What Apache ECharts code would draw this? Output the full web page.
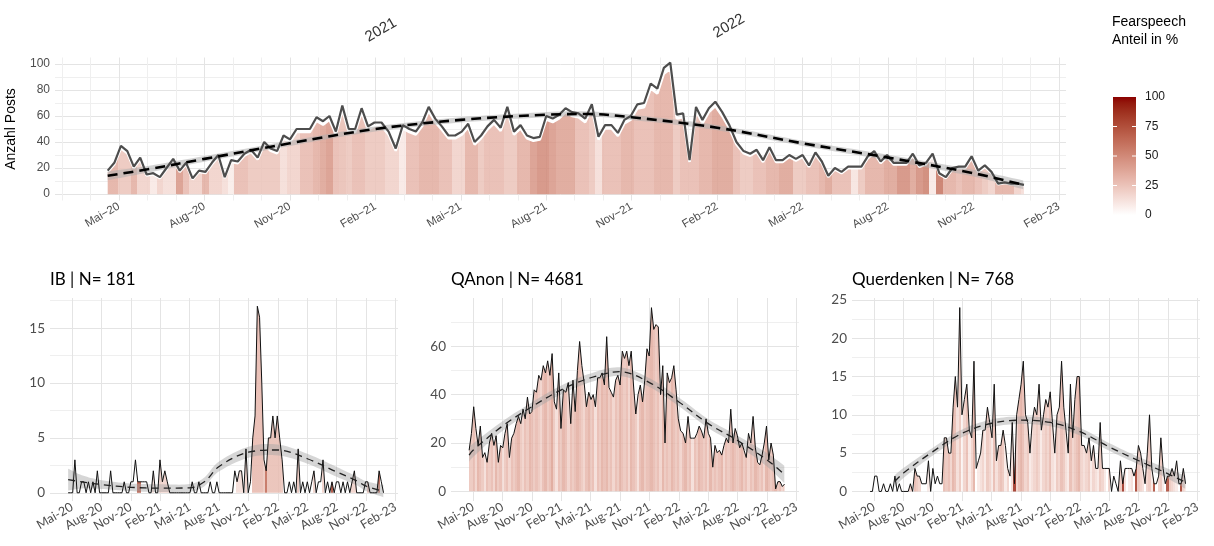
<!DOCTYPE html>
<html><head><meta charset="utf-8">
<script src="https://cdn.jsdelivr.net/npm/echarts@6/dist/echarts.min.js"></script>
<style>html,body{margin:0;padding:0;background:#fff}#c{width:1214px;height:546px}</style>
</head><body><div id="c"></div>
<script>
// ---------- data ----------
const weekStartUTC = [2020, 3, 19];          // first weekly bucket (Sun 19 Apr 2020)
const tickLabels = ['Mai-20','Aug-20','Nov-20','Feb-21','Mai-21','Aug-21','Nov-21','Feb-22','Mai-22','Aug-22','Nov-22','Feb-23'];
const firstTickMonth = 4;                      // months since Jan 2020 of first label

const totalCount = [18,24,37,33,21,28,15,16,13,20, 27,18,24,12,18,17,24,30,13,26,
  25,31,34,28,40,35,33,45,42,50, 50,50,59,56,60,48,68,50,50,66,
  52,55,55,48,35,53,50,48,55,67, 58,52,45,45,48,54,40,45,52,57,
  51,67,48,53,45,43,44,60,58,61, 66,63,62,58,69,44,53,53,47,57,
  60,69,70,85,81,97,101,61,62,26, 67,57,66,71,63,53,40,33,31,34,
  26,36,26,26,30,27,30,22,32,25, 14,20,17,21,21,21,29,33,25,30,
  24,24,24,31,22,24,31,16,13,20, 21,21,29,18,22,17,8,9,8,8,7];
const totalShare = [35,35,25,25,35,20,20,10,20,15, 15,45,30,20,20,35,20,20,15,8,
  30,30,25,25,25,25,25,15,20,20, 30,30,35,40,45,30,28,25,30,30,
  25,25,25,20,20,10,30,30,35,35, 35,30,30,20,20,35,35,25,30,30,
  30,25,25,35,35,45,50,50,45,40, 40,40,30,30,25,15,30,30,30,35,
  35,30,30,30,35,35,35,25,30,30, 30,35,35,40,40,40,30,25,25,30,
  30,35,35,40,40,25,25,30,30,35, 40,30,30,30,12,25,35,35,35,40,
  40,50,50,40,50,55,10,60,35,35, 30,35,35,30,25,20,35,35,35,20,15];

const ibCount = [0,0,0,3,0,0,1,1,0,1, 0,1,0,2,0,0,0,0,0,2, 0,0,0,0,0,1,0,0,1,1,
  3,1,1,1,1,1,0,0,2,0, 0,3,1,2,1,0,0,0,0,0, 0,0,0,0,0,1,0,0,1,0,
  0,0,0,1,0,0,1,0,0,0, 0,0,0,0,2,1,2,2,0,4, 0,1,5,7,17,16,10,3,2,5,
  5,7,5,7,5,3,0,0,1,0, 1,0,4,0,1,0,1,0,1,2, 0,1,1,3,0,1,0,1,0,1,
  1,0,1,0,1,0,1,2,0,0, 0,0,1,1,0,0,0,0,2,1,0];
const ibShare = [0,0,0,0,0,0,0,0,0,0, 0,0,0,0,0,0,0,0,0,0, 0,0,0,0,0,0,0,0,0,0,
  0,75,75,0,0,0,0,0,15,0, 0,20,20,20,20,0,0,0,0,0, 0,0,0,0,0,0,0,0,0,0,
  0,0,0,0,0,0,0,0,0,0, 0,0,0,0,0,15,15,15,0,20, 0,0,30,30,30,30,30,25,65,28,
  28,28,28,28,28,25,0,0,0,0, 0,0,25,0,0,0,0,0,0,20, 0,0,0,20,0,0,0,80,0,0,
  0,0,0,0,0,0,20,20,0,0, 0,0,0,30,0,0,0,0,70,0,0];

const qaCount = [17,24,35,26,19,27,14,16,12,20, 24,19,23,12,19,18,24,28,14,22,
  24,28,31,28,34,30,39,32,33,42, 41,48,46,52,49,54,48,57,37,34,
  49,26,42,41,45,28,46,33,50,62, 52,45,35,41,38,40,35,47,47,49,
  44,64,43,41,39,46,48,44,58,55, 58,52,58,44,32,40,44,37,46,59,
  56,76,67,69,68,40,52,20,49,45, 47,52,42,30,25,24,20,31,22,22,
  22,24,27,25,22,30,24,22,10,19, 16,17,15,19,22,20,34,20,26,23,
  18,20,17,14,24,20,31,18,12,11, 15,20,27,13,20,15,1,4,4,2,3];
const qaShare = [30,25,30,20,35,30,25,15,30,25, 30,20,35,25,30,15,25,30,20,30,
  25,30,35,25,20,30,25,35,30,25, 30,25,20,30,35,25,30,40,25,15,
  30,25,35,30,20,30,25,30,35,30, 25,20,30,35,25,30,15,30,25,35,
  30,35,25,30,20,30,25,35,30,25, 30,20,35,30,25,15,30,35,25,30,
  30,35,30,25,30,20,35,25,30,25, 35,30,25,30,20,30,35,25,30,15,
  30,25,35,30,25,30,20,35,25,30, 25,30,35,20,30,25,30,35,30,25,
  30,35,25,30,20,30,25,35,30,25, 30,20,35,30,25,30,35,25,30,20,25];

const qdCount = [0,0,2,2,0,0,1,0,0,1, 0,2,0,1,0,0,0,0,1,0, 3,2,2,1,1,1,4,0,3,1,
  2,1,1,7,7,5,5,11,15,11, 24,10,12,14,8,7,17,3,4,5, 8,8,11,9,7,14,4,6,6,8,
  6,3,2,9,1,10,12,14,17,10, 9,5,9,11,10,14,8,10,12,11, 13,9,5,10,11,17,11,8,5,14,
  7,12,15,15,6,6,5,7,4,6, 3,3,9,3,3,3,3,0,2,1, 0,4,1,3,3,3,3,2,3,6,
  5,3,1,5,10,3,1,1,2,7, 3,1,2,2,3,2,4,1,1,3,1];
const qdShare = [0,0,0,0,0,0,0,0,0,0, 0,0,0,0,0,0,0,0,20,0, 30,25,20,0,0,0,10,0,0,0,
  0,0,0,30,25,30,20,35,30,15, 25,5,20,30,10,20,35,0,10,15, 20,10,25,20,10,30,15,25,30,25,
  10,20,0,15,90,20,30,35,30,20, 25,10,15,20,25,20,10,20,25,20, 30,15,10,25,20,30,25,15,10,30,
  20,25,30,35,20,15,20,25,10,20, 15,10,25,20,10,0,20,0,0,0, 0,25,90,15,0,10,15,0,85,25,
  20,15,0,20,25,10,80,0,20,25, 10,0,80,25,20,15,10,0,85,20,15];

// smoothed trends (x in months since Jan 2020), value and half-width of the band
const topTrendM  = [3.6, 5, 7, 10, 13, 16, 19, 20.5, 22, 25, 28, 31, 34, 35.75];
const topTrendV  = [14, 19, 27, 39, 50, 57, 61, 61.5, 59, 51, 39, 28, 16, 7];
const topTrendSE = [3.4, 2.6, 2.2, 2, 2, 2, 2, 2, 2, 2, 2, 2.2, 2.6, 3.4];
const ibTrendM  = [3.6, 5, 7, 10, 13, 16, 17.5, 19, 22, 25, 28, 31, 33, 34, 35.75];
const ibTrendV  = [1.2, 1.0, 0.75, 0.5, 0.42, 0.45, 1.0, 2.4, 3.7, 3.9, 3.1, 1.9, 1.1, 0.6, 0.15];
const ibTrendSE = [1.0, 0.6, 0.4, 0.35, 0.35, 0.35, 0.4, 0.45, 0.5, 0.5, 0.45, 0.45, 0.4, 0.45, 0.55];
const qaTrendM  = [3.6, 4, 7, 10, 13, 16, 19, 22, 25, 28, 31, 34, 35.75];
const qaTrendV  = [15, 17, 27, 35, 42, 47, 49.5, 45, 37, 28, 21, 13, 7];
const qaTrendSE = [3.2, 2.8, 2, 1.8, 1.8, 1.8, 1.8, 1.8, 1.8, 1.8, 2, 2.8, 3.6];
const qdTrendM  = [6.1, 7, 10, 13, 16, 19, 22, 25, 28, 31, 34, 35.75];
const qdTrendV  = [1.3, 2.4, 5.2, 7.6, 8.9, 9.3, 9.0, 7.8, 5.8, 4.0, 2.3, 1.2];
const qdTrendSE = [0.8, 0.65, 0.5, 0.5, 0.5, 0.5, 0.5, 0.5, 0.5, 0.5, 0.65, 0.85];

const panelTitles = ['IB | N= 181', 'QAnon | N= 4681', 'Querdenken | N= 768'];
const yearLabels = ['2021', '2022'];
const legendTitle = ['Fearspeech', 'Anteil in %'];
const legendTicks = [0, 25, 50, 75, 100];

// ---------- helpers ----------
function rgb2lab(rgb){
  const lin=c=>{c/=255;return c<=0.04045?c/12.92:Math.pow((c+0.055)/1.055,2.4);};
  const R=lin(rgb[0]),G=lin(rgb[1]),B=lin(rgb[2]);
  const X=(0.4124564*R+0.3575761*G+0.1804375*B)/0.95047;
  const Y=(0.2126729*R+0.7151522*G+0.0721750*B);
  const Z=(0.0193339*R+0.1191920*G+0.9503041*B)/1.08883;
  const f=t=>t>216/24389?Math.cbrt(t):(24389/27*t+16)/116;
  const fx=f(X),fy=f(Y),fz=f(Z);
  return [116*fy-16,500*(fx-fy),200*(fy-fz)];
}
function lab2rgb(l){
  const fy=(l[0]+16)/116,fx=fy+l[1]/500,fz=fy-l[2]/200;
  const inv=t=>t*t*t>216/24389?t*t*t:(116*t-16)/(24389/27);
  const X=inv(fx)*0.95047,Y=inv(fy),Z=inv(fz)*1.08883;
  const R=3.2404542*X-1.5371385*Y-0.4985314*Z;
  const G=-0.9692660*X+1.8760108*Y+0.0415560*Z;
  const B=0.0556434*X-0.2040259*Y+1.0572252*Z;
  const g=c=>{c=Math.max(0,Math.min(1,c));return Math.round(255*(c<=0.0031308?12.92*c:1.055*Math.pow(c,1/2.4)-0.055));};
  return 'rgb('+g(R)+','+g(G)+','+g(B)+')';
}
const LAB_LO=rgb2lab([255,255,255]), LAB_HI=rgb2lab([139,0,0]);
function shareColor(p){const t=Math.max(0,Math.min(1,p/100));return lab2rgb([0,1,2].map(k=>LAB_LO[k]+(LAB_HI[k]-LAB_LO[k])*t));}
function monthPos(d){const y=d.getUTCFullYear(),mo=d.getUTCMonth(),day=d.getUTCDate();const dim=new Date(Date.UTC(y,mo+1,0)).getUTCDate();return (y-2020)*12+mo+(day-1)/dim;}
const t0=Date.UTC(weekStartUTC[0],weekStartUTC[1],weekStartUTC[2]);
const weeks=totalCount.map((_,i)=>monthPos(new Date(t0+i*7*864e5)));

function stripGradient(ms,shares){
  const n=ms.length,m0=ms[0],span=ms[n-1]-m0,stops=[];
  for(let i=0;i<n;i++){
    const c=shareColor(shares[i]);
    const a=i===0?0:((ms[i-1]+ms[i])/2-m0)/span;
    const b=i===n-1?1:((ms[i]+ms[i+1])/2-m0)/span;
    stops.push({offset:a,color:c},{offset:b,color:c});
  }
  return new echarts.graphic.LinearGradient(0,0,1,0,stops);
}
// Catmull-Rom through pixel points (for the band outline)
function spline(pts,steps){
  const out=[];const n=pts.length;
  for(let i=0;i<n-1;i++){
    const p0=pts[Math.max(0,i-1)],p1=pts[i],p2=pts[i+1],p3=pts[Math.min(n-1,i+2)];
    for(let s=0;s<steps;s++){
      const t=s/steps,t2=t*t,t3=t2*t;
      out.push([0,1].map(k=>0.5*((2*p1[k])+(-p0[k]+p2[k])*t+(2*p0[k]-5*p1[k]+4*p2[k]-p3[k])*t2+(-p0[k]+3*p1[k]-3*p2[k]+p3[k])*t3)));
    }
  }
  out.push(pts[n-1]);return out;
}
const isMult=(v,q)=>Math.abs(v/q-Math.round(v/q))<1e-6;
const MAJOR='#e4e4e4', MINOR='#efefef', NONE='rgba(0,0,0,0)';
function tickColors(min,max,step,cls){const out=[];const n=Math.round((max-min)/step);for(let k=0;k<=n;k++){out.push(cls(+(min+k*step).toFixed(6)));}return out;}

const X_MIN=1.75, X_MAX=37.25, X_STEP=0.25;
const FONT_TOP='"Liberation Sans", Arial, sans-serif';
const FONT_BOT='Lato, "Open Sans", sans-serif';
function xLabel(v, dash){
  if(!isMult(v,1)) return '';
  const k=(Math.round(v)-firstTickMonth)/3;
  if(!Number.isInteger(k)||k<0||k>=tickLabels.length) return '';
  return dash? tickLabels[k].replace('-',dash) : tickLabels[k];
}
function makeX(gi, top){
  return {type:'value',gridIndex:gi,min:X_MIN,max:X_MAX,interval:X_STEP,
    axisLine:{show:false},axisTick:{show:false},
    splitLine:{show:true,lineStyle:{width:1,color:tickColors(X_MIN,X_MAX,X_STEP,v=>{
      if(!isMult(v,1)) return NONE;
      if(isMult(v-1,3)) return MAJOR;
      return top?MINOR:NONE;})}},
    axisLabel:{show:true,rotate:30,margin:5,hideOverlap:false,showMinLabel:true,showMaxLabel:true,
      color:'#4d4d4d',fontFamily:top?FONT_TOP:FONT_BOT,fontSize:top?11.5:12.5,
      formatter:v=>xLabel(v, top?'\u2212':null)}};
}
function makeY(gi,min,max,step,major,minor,labMax,fontFamily,fontSize,extra){
  return Object.assign({type:'value',gridIndex:gi,min:min,max:max,interval:step,
    axisLine:{show:false},axisTick:{show:false},
    splitLine:{show:true,lineStyle:{width:1,color:tickColors(min,max,step,v=>{
      if(v<0||v>labMax+minor) return NONE;
      if(isMult(v,major)&&v>=0) return MAJOR;
      if(isMult(v-minor,major)) return MINOR;
      return NONE;})}},
    axisLabel:{color:'#4d4d4d',fontFamily:fontFamily,fontSize:fontSize,margin:5,hideOverlap:false,
      showMinLabel:true,showMaxLabel:true,
      formatter:v=>(isMult(v,major)&&v>=0&&v<=labMax)?String(Math.round(v)):''}},extra||{});
}

const grids=[
  {left:55,top:57.5,width:1011,height:143},
  {left:50,top:298,width:348,height:203},
  {left:451,top:298,width:348,height:203},
  {left:852,top:298,width:348,height:203}
].map(g=>Object.assign({containLabel:false,outerBoundsMode:'none'},g));

const xAxes=[makeX(0,true),makeX(1,false),makeX(2,false),makeX(3,false)];
const yAxes=[
  makeY(0,-5,105,5,20,10,100,FONT_TOP,12,{name:'Anzahl Posts',nameLocation:'middle',nameGap:37,nameRotate:90,
    nameTextStyle:{color:'#000',fontFamily:FONT_TOP,fontSize:14}}),
  makeY(1,-0.75,17.75,0.25,5,2.5,15,FONT_BOT,13.5),
  makeY(2,-4,80,2,20,10,60,FONT_BOT,13.5),
  makeY(3,-1.25,25.25,0.25,5,2.5,25,FONT_BOT,13.5),
  {type:'value',gridIndex:0,min:-5,max:110,show:false,splitLine:{show:false}}
];

function pairs(ms,vals){return vals.map((v,i)=>[ms[i],v]);}
function bandSeries(xi,yi,tm,tv,tse,fill){
  const data=tm.map((m,i)=>[m,tv[i]-tse[i],tv[i]+tse[i]]);
  return {type:'custom',xAxisIndex:xi,yAxisIndex:yi,data:data,clip:true,silent:true,z:3,
    encode:{x:0,y:[1,2]},
    renderItem:function(params,api){
      if(params.dataIndex!==0) return null;
      const up=spline(data.map(d=>api.coord([d[0],d[2]])),10);
      const dn=spline(data.map(d=>api.coord([d[0],d[1]])),10).reverse();
      return {type:'polygon',shape:{points:up.concat(dn)},style:{fill:fill}};
    }};
}
function panelSeries(xi,yi,yiArea,counts,shares,tm,tv,tse,opt){
  return [
    {type:'line',xAxisIndex:xi,yAxisIndex:yiArea,data:pairs(weeks,counts),symbol:'none',
      lineStyle:opt.areaLine,areaStyle:{color:stripGradient(weeks,shares),opacity:0.85},silent:true,z:2},
    bandSeries(xi,yi,tm,tv,tse,opt.band),
    {type:'line',xAxisIndex:xi,yAxisIndex:yi,data:pairs(weeks,counts),symbol:'none',
      lineStyle:opt.line,silent:true,z:4},
    {type:'line',xAxisIndex:xi,yAxisIndex:yi,data:pairs(tm,tv),symbol:'none',smooth:0.35,
      lineStyle:opt.trend,silent:true,z:5}
  ];
}
const series=[].concat(
  panelSeries(0,0,4,totalCount,totalShare,topTrendM,topTrendV,topTrendSE,{
    areaLine:{color:'#ffffff',width:2.5},band:'rgba(175,175,175,0.55)',
    line:{color:'#4d4d4d',width:2.2},trend:{color:'#000',width:2.6,type:[10,6]}}),
  panelSeries(1,1,1,ibCount,ibShare,ibTrendM,ibTrendV,ibTrendSE,{
    areaLine:{width:0,opacity:0},band:'rgba(165,165,165,0.45)',
    line:{color:'#111',width:1},trend:{color:'#222',width:1.3,type:[7,5]}}),
  panelSeries(2,2,2,qaCount,qaShare,qaTrendM,qaTrendV,qaTrendSE,{
    areaLine:{width:0,opacity:0},band:'rgba(165,165,165,0.45)',
    line:{color:'#111',width:1},trend:{color:'#222',width:1.3,type:[7,5]}}),
  panelSeries(3,3,3,qdCount,qdShare,qdTrendM,qdTrendV,qdTrendSE,{
    areaLine:{width:0,opacity:0},band:'rgba(165,165,165,0.45)',
    line:{color:'#111',width:1},trend:{color:'#222',width:1.3,type:[7,5]}})
);

// legend colour bar
const cbX=1113, cbW=23, cbTop=97, cbBot=215;
const cbStops=[];for(let k=0;k<=20;k++){cbStops.push({offset:k/20,color:shareColor(100-k*5)});}
const graphic=[
  {type:'text',x:381,y:30,rotation:Math.PI/6,style:{text:yearLabels[0],font:'15px '+FONT_TOP,fill:'#333',align:'center',verticalAlign:'middle'}},
  {type:'text',x:729,y:26,rotation:Math.PI/6,style:{text:yearLabels[1],font:'15px '+FONT_TOP,fill:'#333',align:'center',verticalAlign:'middle'}},
  {type:'text',x:cbX-1,y:22,style:{text:legendTitle[0],font:'14px '+FONT_TOP,fill:'#000',align:'left',verticalAlign:'middle'}},
  {type:'text',x:cbX-1,y:40,style:{text:legendTitle[1],font:'14px '+FONT_TOP,fill:'#000',align:'left',verticalAlign:'middle'}},
  {type:'rect',shape:{x:cbX,y:cbTop,width:cbW,height:cbBot-cbTop},style:{fill:new echarts.graphic.LinearGradient(0,0,0,1,cbStops)}}
];
legendTicks.forEach(v=>{
  const y=cbBot-(cbBot-cbTop)*v/100;
  graphic.push({type:'text',x:cbX+cbW+9,y:y,style:{text:String(v),font:'12px '+FONT_TOP,fill:'#1a1a1a',align:'left',verticalAlign:'middle'}});
  if(v>0&&v<100){
    graphic.push({type:'line',shape:{x1:cbX,y1:y,x2:cbX+4,y2:y},style:{stroke:'#fff',lineWidth:1}});
    graphic.push({type:'line',shape:{x1:cbX+cbW-4,y1:y,x2:cbX+cbW,y2:y},style:{stroke:'#fff',lineWidth:1}});
  }
});

const titles=panelTitles.map((t,i)=>({text:t,left:grids[i+1].left,top:271,padding:0,
  textStyle:{fontFamily:FONT_BOT,fontSize:17,fontWeight:'normal',color:'#000'}}));

const chart=echarts.init(document.getElementById('c'),null,{renderer:'canvas',width:1214,height:546});
chart.setOption({animation:false,backgroundColor:'#fff',title:titles,grid:grids,
  xAxis:xAxes,yAxis:yAxes,series:series,graphic:graphic,tooltip:{show:false},legend:{show:false}});
</script></body></html>
